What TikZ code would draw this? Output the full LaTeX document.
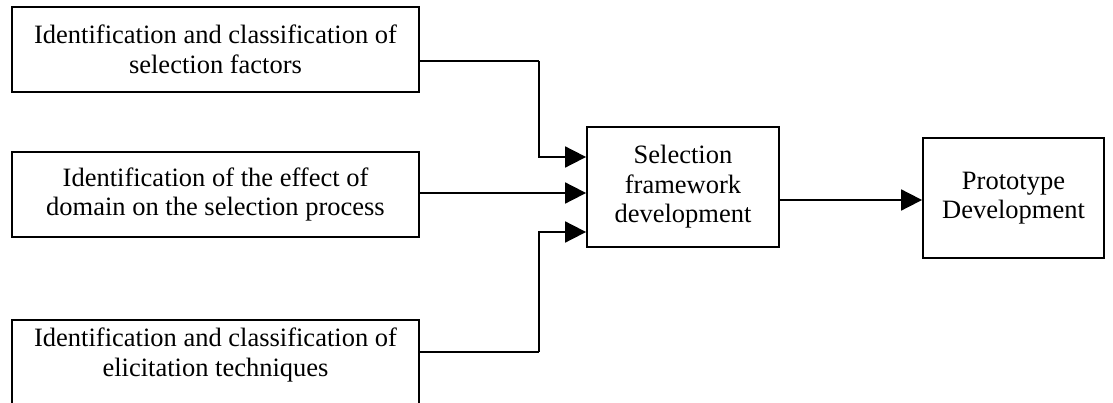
\documentclass[tikz,border=0pt]{standalone}
\usepackage{fontspec}
\setmainfont{Liberation Serif}
\usetikzlibrary{arrows.meta,calc}

\begin{document}
\begin{tikzpicture}[x=1pt,y=-1pt,
  txt/.style={align=center,inner sep=0pt,font=\fontsize{26.5}{29.5}\selectfont},
  box/.style={txt,draw,line width=1.8pt},
  arr/.style={line width=1.8pt,-{Triangle[length=21pt,width=21pt]}},
  conn/.style={line width=1.8pt}]
\useasboundingbox (0,0) rectangle (1113,403);
\clip (0,0) rectangle (1113,403);

% left column: the three inputs
\node[box,minimum width=407pt,minimum height=85pt] (A) at (215.5,49.5)
  {Identification and classification of\\selection factors};
\node[box,minimum width=407pt,minimum height=85pt] (B) at (215.5,194.5)
  {Identification of the effect of\\domain on the selection process};
\node[box,minimum width=407pt,minimum height=100pt,anchor=north] (C) at (215.5,319)
  {};
\node[txt] (Ct) at (215.5,355)
  {Identification and classification of\\elicitation techniques};

% central and final steps
\node[box,minimum width=192pt,minimum height=120pt] (S) at (683,187)
  {Selection\\framework\\development};
\node[box,minimum width=181pt,minimum height=120pt] (P) at (1013.5,198)
  {Prototype\\Development};

% connectors
\coordinate (ja) at (539,61);
\coordinate (jc) at (539,352);
\draw[conn] ($(A.east)+(0,11.5)$) -- (ja);
\draw[arr] (ja) |- ($(S.west)+(0,-30)$);
\draw[arr] ($(B.east)+(0,-1.5)$) -- ($(S.west)+(0,6)$);
\draw[conn] (C.east |- jc) -- (jc);
\draw[arr] (jc) |- ($(S.west)+(0,45)$);
\draw[arr] ($(S.east)+(0,13)$) -- ($(P.west)+(0,2)$);
\end{tikzpicture}
\end{document}
